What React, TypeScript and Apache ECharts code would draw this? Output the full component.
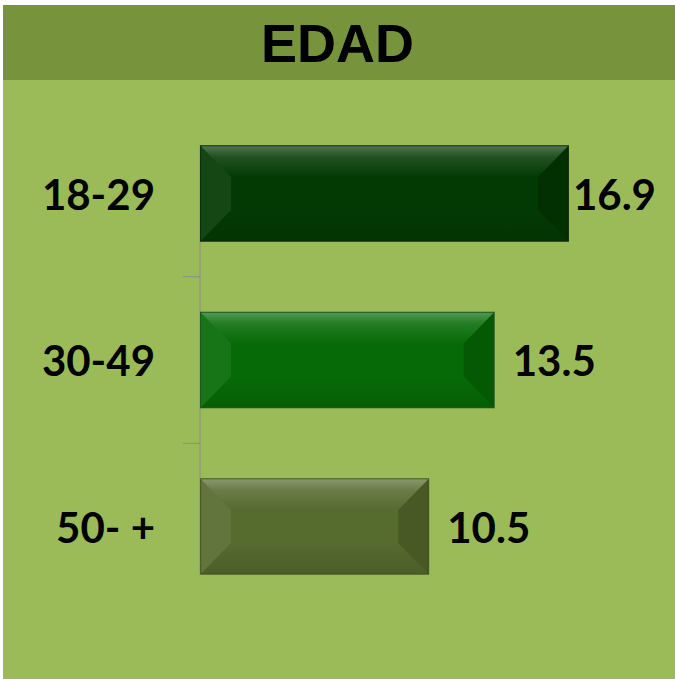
import React, { useEffect, useRef } from "react";
import * as echarts from "echarts";

const title = "EDAD";
const categories = ["18-29", "30-49", "50- +"];
const values = [16.9, 13.5, 10.5];
const barColors = ["#033A03", "#066B06", "#566B2E"];
const borderColors = ["#0B2E0B", "#1C5A1C", "#4A5C27"];

export default function App() {
  const ref = useRef<HTMLDivElement>(null);
  useEffect(() => {
    const chart = echarts.init(ref.current!, undefined, { renderer: "svg" });
    const barRatio = 0.58;
    chart.setOption({
      animation: false,
      backgroundColor: "#FFFFFF",
      title: {
        text: title,
        left: "center",
        top: 16,
        padding: 0,
        textStyle: {
          fontFamily: "Liberation Sans",
          fontWeight: "bold",
          fontSize: 54,
          lineHeight: 54,
          color: "#000000",
        },
      },
      graphic: [
        { type: "rect", z: -10, silent: true, shape: { x: 3, y: 5, width: 672, height: 674 }, style: { fill: "#9BBB59" } },
        { type: "rect", z: -9, silent: true, shape: { x: 3, y: 5, width: 672, height: 75 }, style: { fill: "#77933C" } },
      ],
      grid: { left: 200, top: 110.25, height: 499.5, width: 436.6, containLabel: false },
      xAxis: { type: "value", min: 0, max: 20, show: false },
      yAxis: {
        type: "category",
        inverse: true,
        data: categories,
        axisLine: { show: false },
        axisTick: { show: false },
        splitLine: { show: false },
        axisLabel: {
          margin: 45,
          fontFamily: "Lato",
          fontWeight: "bold",
          fontSize: 42,
          color: "#000000",
        },
      },
      series: [
        {
          type: "custom",
          silent: true,
          z: 1,
          data: values.map((v, i) => [v, i]),
          encode: { x: 0, y: 1 },
          renderItem: (params: any, api: any) => {
            const i = params.dataIndex;
            const n = categories.length;
            const c = api.coord([0, i]);
            const band = api.size([0, 1])[1];
            const h = band * barRatio;
            const top = i === 0 ? c[1] - h / 2 : c[1] - band / 2;
            const bottom = i === n - 1 ? c[1] + h / 2 : c[1] + band / 2;
            const children: any[] = [
              { type: "line", shape: { x1: c[0], y1: top, x2: c[0], y2: bottom }, style: { stroke: "#8C8C8C", lineWidth: 1 } },
            ];
            if (i < n - 1) {
              children.push({ type: "line", shape: { x1: c[0] - 17, y1: bottom, x2: c[0], y2: bottom }, style: { stroke: "#8C8C8C", lineWidth: 1 } });
            }
            return { type: "group", children };
          },
        },
        {
          type: "bar",
          z: 2,
          barWidth: barRatio * 100 + "%",
          data: values.map((v, i) => ({
            value: v,
            itemStyle: { color: barColors[i], borderColor: borderColors[i], borderWidth: 1.5 },
            label: { distance: i === 0 ? 4 : 18 },
          })),
          label: {
            show: true,
            position: "right",
            fontFamily: "Lato",
            fontWeight: "bold",
            fontSize: 42,
            color: "#000000",
            formatter: (p: any) => p.value.toFixed(1),
          },
        },
        {
          type: "custom",
          silent: true,
          z: 3,
          data: values.map((v, i) => [v, i]),
          encode: { x: 0, y: 1 },
          renderItem: (params: any, api: any) => {
            const i = params.dataIndex;
            const v = values[i];
            const p0 = api.coord([0, i]);
            const p1 = api.coord([v, i]);
            const band = api.size([0, 1])[1];
            const h = band * barRatio;
            const x0 = p0[0] + 1, x1 = p1[0] - 1;
            const y0 = p0[1] - h / 2 + 1, y1 = p0[1] + h / 2 - 1;
            const b = 30, bv = h * 0.32;
            return {
              type: "group",
              children: [
                {
                  type: "polygon",
                  shape: { points: [[x0, y0], [x1, y0], [x1 - b, y0 + bv], [x0 + b, y0 + bv]] },
                  style: {
                    fill: {
                      type: "linear", x: 0, y: 0, x2: 0, y2: 1,
                      colorStops: [
                        { offset: 0, color: "rgba(255,255,255,0.30)" },
                        { offset: 0.35, color: "rgba(255,255,255,0.12)" },
                        { offset: 1, color: "rgba(255,255,255,0.0)" },
                      ],
                    },
                  },
                },
                {
                  type: "polygon",
                  shape: { points: [[x0, y0], [x0 + b, y0 + bv], [x0 + b, y1 - bv], [x0, y1]] },
                  style: { fill: "rgba(255,255,255,0.07)" },
                },
                {
                  type: "polygon",
                  shape: { points: [[x1, y0], [x1 - b, y0 + bv], [x1 - b, y1 - bv], [x1, y1]] },
                  style: { fill: "rgba(0,0,0,0.16)" },
                },
                {
                  type: "polygon",
                  shape: { points: [[x0, y1], [x0 + b, y1 - bv], [x1 - b, y1 - bv], [x1, y1]] },
                  style: {
                    fill: {
                      type: "linear", x: 0, y: 0, x2: 0, y2: 1,
                      colorStops: [
                        { offset: 0, color: "rgba(0,0,0,0.0)" },
                        { offset: 1, color: "rgba(0,0,0,0.12)" },
                      ],
                    },
                  },
                },
              ],
            };
          },
        },
      ],
    });
    return () => chart.dispose();
  }, []);
  return (
    <div
      ref={ref}
      style={{ position: "fixed", left: 0, top: 0, width: 675, height: 679 }}
    />
  );
}
